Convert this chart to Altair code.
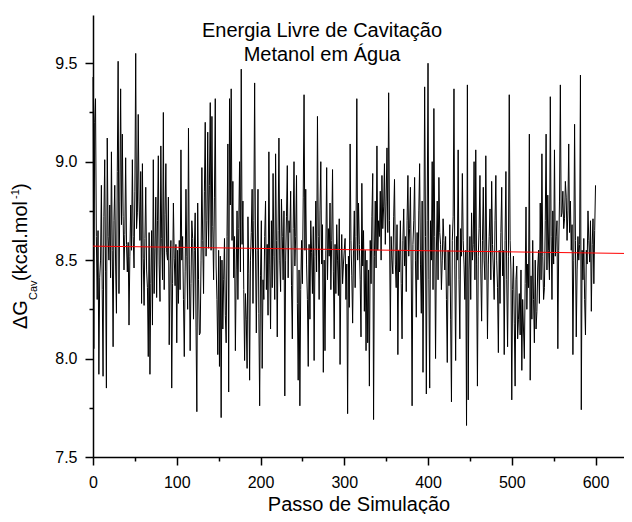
import altair as alt
import pandas as pd

# ---- data (one value per simulation step) ----
dg_0_99 = [9.43, 8.05, 9.20, 9.32, 8.62, 8.30, 8.65, 7.92, 8.41, 8.50,
           8.88, 8.35, 7.91, 8.72, 9.01, 8.44, 7.85, 9.12, 8.62, 8.50,
           8.78, 8.41, 9.05, 8.55, 8.06, 8.70, 8.88, 8.47, 8.23, 8.95,
           9.51, 8.33, 8.80, 9.37, 8.68, 9.14, 8.72, 8.45, 8.63, 9.02,
           8.58, 8.44, 8.59, 8.17, 8.52, 8.78, 8.55, 9.01, 8.62, 8.46,
           8.85, 9.55, 8.66, 8.74, 9.24, 8.80, 8.60, 8.95, 8.28, 8.99,
           8.51, 8.27, 8.61, 8.87, 8.45, 8.36, 8.01, 8.64, 7.92, 8.38,
           8.65, 8.17, 9.01, 8.33, 8.56, 8.82, 8.31, 8.70, 9.03, 8.48,
           8.29, 9.08, 8.61, 8.40, 9.25, 8.35, 8.73, 8.99, 8.54, 8.50,
           8.82, 8.07, 8.45, 8.60, 7.85, 8.38, 8.79, 8.51, 8.37, 8.58]

dg_100_199 = [8.08, 8.55, 8.28, 8.60, 8.35, 9.06, 8.50, 8.62, 8.30, 8.01,
              8.44, 8.86, 8.52, 8.25, 9.17, 8.48, 8.04, 8.38, 8.70, 8.61,
              8.20, 8.55, 8.74, 8.16, 7.73, 8.79, 8.40, 8.12, 8.13, 8.50,
              8.97, 8.60, 8.33, 8.85, 9.20, 8.52, 8.70, 9.15, 8.56, 8.88,
              9.30, 8.55, 9.23, 8.67, 8.40, 8.82, 9.32, 8.47, 8.30, 8.02,
              8.55, 7.96, 8.52, 7.70, 8.50, 8.15, 8.40, 8.61, 8.22, 8.08,
              8.62, 9.09, 7.83, 9.32, 8.78, 9.37, 8.60, 8.90, 8.41, 8.62,
              8.04, 8.45, 8.75, 8.30, 8.66, 9.00, 8.44, 9.47, 8.58, 8.80,
              8.35, 7.99, 8.33, 8.20, 7.95, 8.72, 8.43, 7.89, 8.50, 8.64,
              8.86, 8.28, 8.70, 9.40, 8.56, 8.13, 8.55, 8.86, 8.23, 7.76]

dg_200_299 = [8.42, 8.70, 7.95, 8.40, 8.30, 8.62, 8.80, 8.35, 8.58, 8.22,
              9.05, 8.48, 8.15, 8.70, 8.36, 8.94, 8.52, 8.30, 9.04, 8.60,
              8.11, 8.65, 9.12, 8.50, 8.34, 8.81, 8.62, 8.40, 8.75, 7.81,
              8.50, 8.72, 8.98, 8.41, 8.70, 8.64, 8.85, 8.37, 8.10, 8.66,
              9.00, 8.47, 8.62, 8.93, 8.28, 7.89, 8.45, 7.76, 8.35, 8.60,
              8.38, 8.82, 9.34, 8.55, 8.86, 8.48, 8.30, 7.96, 8.58, 8.20,
              8.70, 8.54, 8.33, 8.67, 7.99, 8.52, 8.80, 8.44, 9.23, 8.62,
              8.30, 8.75, 9.00, 8.48, 8.68, 7.93, 8.50, 8.04, 8.55, 8.97,
              8.40, 8.66, 8.52, 8.79, 8.35, 8.60, 8.96, 8.44, 8.10, 8.58,
              8.33, 8.68, 8.50, 8.32, 8.71, 7.97, 8.45, 8.63, 8.38, 8.48]

dg_300_399 = [8.55, 8.61, 8.30, 8.48, 7.72, 8.52, 8.26, 9.09, 8.60, 8.42,
              8.18, 8.55, 8.75, 8.36, 8.62, 9.32, 8.50, 8.79, 8.58, 8.40,
              8.11, 8.89, 8.47, 8.65, 8.24, 8.55, 8.04, 8.50, 8.08, 8.45,
              7.86, 8.60, 8.38, 8.72, 8.94, 7.69, 8.52, 8.80, 8.46, 9.08,
              8.55, 8.70, 8.62, 8.85, 8.50, 8.93, 8.66, 8.77, 8.99, 8.58,
              8.80, 9.07, 8.64, 9.35, 8.70, 8.14, 8.62, 8.50, 8.43, 8.72,
              8.91, 8.48, 8.36, 8.68, 8.02, 8.55, 8.44, 8.70, 8.38, 8.10,
              8.60, 8.76, 8.47, 8.62, 8.34, 8.70, 8.93, 8.52, 8.66, 8.87,
              8.45, 7.76, 8.58, 8.70, 8.92, 8.50, 8.21, 8.64, 8.40, 8.75,
              8.99, 8.48, 8.23, 8.80, 7.93, 8.55, 9.38, 8.62, 7.82, 8.70]

dg_400_499 = [9.50, 8.40, 7.85, 8.70, 8.50, 9.00, 8.35, 9.27, 8.62, 8.00,
              8.55, 8.80, 8.40, 8.92, 8.64, 8.58, 8.35, 8.50, 8.71, 8.60,
              8.45, 8.62, 8.30, 7.98, 8.55, 8.37, 8.68, 8.20, 7.78, 8.60,
              8.72, 9.37, 8.45, 7.99, 8.62, 8.50, 9.06, 8.40, 8.10, 8.66,
              8.52, 8.94, 8.60, 8.48, 8.30, 8.55, 7.66, 9.39, 7.79, 8.45,
              8.62, 8.30, 8.74, 8.50, 8.58, 9.00, 8.40, 9.06, 8.48, 7.86,
              8.52, 8.66, 8.93, 8.45, 8.19, 8.60, 8.87, 8.50, 8.40, 9.03,
              8.55, 8.10, 8.48, 8.62, 8.76, 8.40, 8.90, 8.58, 8.45, 8.30,
              8.70, 8.93, 8.50, 8.36, 8.03, 8.55, 8.28, 8.64, 8.87, 8.42,
              8.55, 8.02, 8.60, 8.95, 8.40, 8.06, 8.52, 9.34, 8.60, 8.45]

dg_500_600 = [7.79, 8.35, 8.52, 8.18, 7.86, 8.40, 8.47, 8.10, 8.20, 8.33,
              8.12, 8.45, 7.94, 8.30, 8.15, 8.00, 8.38, 8.77, 8.25, 8.48,
              8.36, 9.14, 7.89, 8.42, 8.20, 8.60, 8.30, 8.08, 8.50, 8.15,
              8.24, 8.46, 8.55, 8.28, 8.79, 8.40, 9.04, 8.52, 8.30, 8.36,
              8.70, 9.14, 8.45, 8.83, 8.55, 8.40, 9.33, 8.62, 8.30, 8.75,
              8.48, 9.06, 8.52, 8.62, 8.70, 8.05, 8.55, 8.80, 9.39, 8.72,
              8.74, 8.85, 8.66, 8.71, 8.90, 8.82, 8.60, 8.75, 9.09, 8.64,
              8.80, 8.55, 8.68, 8.02, 8.50, 9.19, 8.60, 8.11, 8.45, 8.62,
              8.50, 8.58, 9.44, 7.74, 8.55, 8.40, 8.61, 8.30, 8.12, 8.55,
              8.48, 8.75, 8.60, 8.49, 8.70, 8.24, 8.58, 8.71, 8.38, 8.65, 8.88]

# red linear-fit line, read at its two ends
fit_x = [0, 634]
fit_y = [8.571, 8.534]

x_major = [0, 100, 200, 300, 400, 500, 600]
x_minor = [50, 150, 250, 350, 450, 550]
y_major = [7.5, 8.0, 8.5, 9.0, 9.5]
y_minor = [7.75, 8.25, 8.75, 9.25]

title_lines = ["Energia Livre de Cavitação", "Metanol em Água"]
x_title = "Passo de Simulação"

values = dg_0_99 + dg_100_199 + dg_200_299 + dg_300_399 + dg_400_499 + dg_500_600
df = pd.DataFrame({"passo": list(range(len(values))), "dg": values})
fit = pd.DataFrame({"passo": fit_x, "dg": fit_y})

FONT = "Liberation Sans"
xscale = alt.Scale(domain=[0, 634], nice=False, zero=False)
yscale = alt.Scale(domain=[7.5, 9.745], nice=False, zero=False)

common = dict(grid=False, domainColor="black", tickColor="black",
              labelColor="black", labelFont=FONT, labelFontSize=16,
              domainWidth=1.5, tickWidth=1.5)

x_axis = alt.Axis(values=x_major, title=x_title, tickSize=8, labelPadding=9,
                  labelFlush=False, titleFont=FONT, titleFontSize=20,
                  titleFontWeight="normal", titleColor="black", titlePadding=4,
                  orient="bottom", **common)
y_axis = alt.Axis(values=y_major, format=".1f", title="", tickSize=8,
                  labelPadding=8, orient="left", **common)

X = alt.X("passo:Q", scale=xscale, axis=x_axis)
Y = alt.Y("dg:Q", scale=yscale, axis=y_axis)

line = alt.Chart(df).mark_line(color="black", strokeWidth=1).encode(x=X, y=Y)
red = alt.Chart(fit).mark_line(color="#ff0000", strokeWidth=1).encode(x=X, y=Y)
main = alt.layer(line, red)

minor_x_axis = alt.Axis(values=x_minor, labels=False, domain=False, title="",
                        tickSize=4, tickWidth=1.5, tickColor="black", grid=False,
                        orient="bottom")
minor_y_axis = alt.Axis(values=y_minor, labels=False, domain=False, title="",
                        tickSize=4, tickWidth=1.5, tickColor="black", grid=False,
                        orient="left")
minor = alt.Chart(fit).mark_line(opacity=0).encode(
    x=alt.X("passo:Q", scale=xscale, axis=minor_x_axis),
    y=alt.Y("dg:Q", scale=yscale, axis=minor_y_axis),
)


def label(text, x, y, size, angle=0, align="center", baseline="alphabetic"):
    return alt.Chart(pd.DataFrame({"t": [text]})).mark_text(
        font=FONT, fontSize=size, color="black", angle=angle,
        align=align, baseline=baseline,
    ).encode(x=alt.value(x), y=alt.value(y), text="t:N")


texts = [
    label(title_lines[0], 229, 22, 20),
    label(title_lines[1], 229, 46, 20),
    label("ΔG", -72, 314, 20, angle=270, align="left", baseline="middle"),
    label("Cav", -59, 285, 11, angle=270, align="left", baseline="middle"),
    label("(kcal.mol", -72, 266, 20, angle=270, align="left", baseline="middle"),
    label("-1", -77, 184, 11, angle=270, align="left", baseline="middle"),
    label(")", -72, 175, 20, angle=270, align="left", baseline="middle"),
]

chart = alt.layer(main, minor, *texts).resolve_scale(
    x="independent", y="independent"
).properties(
    width=531,
    height=442,
    autosize=alt.AutoSizeParams(type="none"),
    padding={"left": 85, "top": 7, "right": 0, "bottom": 57},
    background="white",
).configure_view(strokeWidth=0)

chart.save("out.html", embed_options={"renderer": "svg", "actions": False})
